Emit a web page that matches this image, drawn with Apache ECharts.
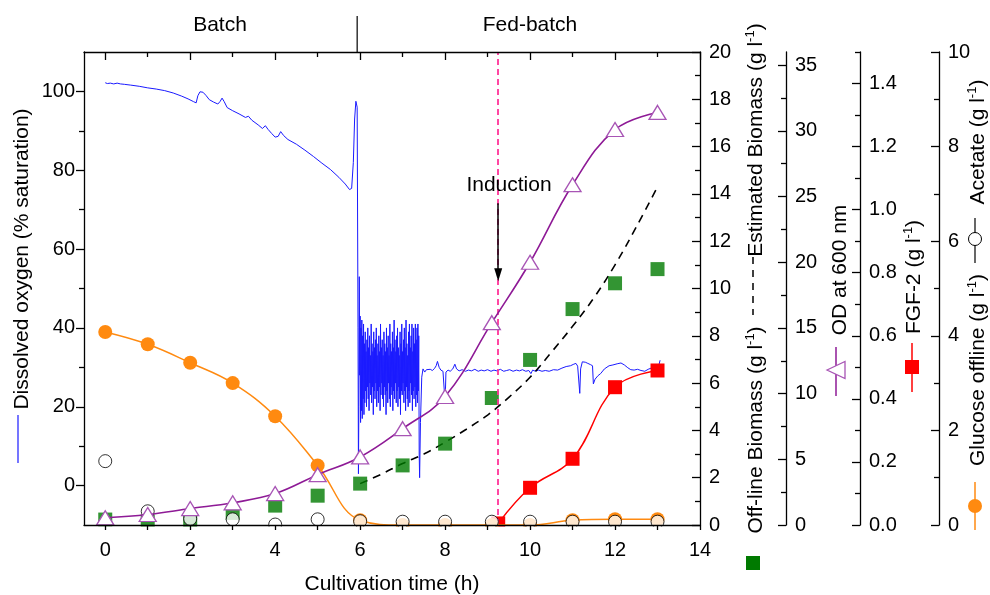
<!DOCTYPE html>
<html><head><meta charset="utf-8">
<script src="https://cdn.jsdelivr.net/npm/echarts@6/dist/echarts.min.js"></script>
<style>html,body{margin:0;padding:0;background:#fff}#c{width:990px;height:595px}</style>
</head><body><div id="c"></div>
<script>
const FONT = 'Arial, "Liberation Sans", Helvetica, sans-serif';

// ---------- data ----------
const sampleTimes    = [0, 1, 2, 3, 4, 5, 6, 7, 8, 9.1, 10, 11, 12, 13];
const glucoseOffline = [4.08, 3.82, 3.43, 3.0, 2.30, 1.26, 0.10, 0, 0, 0, 0, 0.10, 0.12, 0.12];
const acetate        = [1.35, 0.29, 0.13, 0.12, 0.01, 0.12, 0.08, 0.07, 0.07, 0.07, 0.07, 0.07, 0.07, 0.07];
const od600          = [0.55, 0.8, 1.25, 1.69, 2.39, 3.83, 5.18, 7.33, 9.78, 15.4, 20.0, 25.9, 30.1, 31.4];
const offlineBiomass = [0.23, 0.15, 0.18, 0.51, 0.82, 1.24, 1.75, 2.52, 3.44, 5.37, 6.98, 9.13, 10.22, 10.82];
const fgfTimes = [9.25, 10, 11, 12, 13];
const fgf2     = [0.005, 0.118, 0.21, 0.437, 0.49];
const estTimes   = [6, 6.5, 7, 7.5, 8, 8.5, 9, 9.5, 10, 10.5, 11, 11.5, 12, 12.5, 13];
const estBiomass = [1.75, 2.15, 2.6, 3.0, 3.5, 4.05, 4.65, 5.4, 6.25, 7.3, 8.4, 9.6, 11.0, 12.6, 14.3];
const inductionTime = 9.25;
const phaseChange = 5.93;

// dissolved oxygen, batch phase
const doTimeBatch = [
 0.00,0.05,0.12,0.20,0.28,0.36,0.45,0.60,0.80,1.00,1.20,1.40,1.60,1.80,1.95,2.08,2.14,2.18,2.23,2.30,
 2.37,2.45,2.55,2.65,2.70,2.75,2.80,2.87,3.00,3.15,3.30,3.37,3.45,3.60,3.70,3.77,3.83,3.92,4.00,4.07,
 4.13,4.20,4.30,4.50,4.70,4.90,5.10,5.30,5.50,5.65,5.75,5.80,5.84,5.87,5.90,5.93,5.95,5.96,5.97,5.98,5.99
];
const doValueBatch = [
 102.2,102.0,102.1,101.9,102.1,101.9,101.8,101.6,101.3,100.9,100.6,100.2,99.6,98.8,98.1,97.4,97.1,98.9,99.9,99.8,
 99.0,97.9,97.3,96.8,97.4,98.3,97.4,95.9,95.1,94.3,93.4,93.7,92.7,91.5,90.6,91.3,90.4,89.3,88.4,88.6,
 89.8,88.8,87.8,86.6,85.1,83.5,81.8,80.2,78.2,76.5,75.1,75.4,82.0,93.0,97.5,96.0,40.0,3.0,20.0,53.0,28.0
];
// dissolved oxygen, oscillating start of fed-batch
const doTimeOsc = [
 6.00,6.01,6.02,6.03,6.04,6.05,6.06,6.07,6.08,6.09,6.10,6.11,6.12,6.13,6.14,6.15,6.16,6.17,6.18,6.19,
 6.20,6.21,6.22,6.23,6.24,6.25,6.26,6.27,6.28,6.29,6.30,6.31,6.32,6.33,6.34,6.35,6.36,6.37,6.38,6.39,
 6.40,6.41,6.42,6.43,6.44,6.45,6.46,6.47,6.48,6.49,6.50,6.51,6.52,6.53,6.54,6.55,6.56,6.57,6.58,6.59,
 6.60,6.61,6.62,6.63,6.64,6.65,6.66,6.67,6.68,6.69,6.70,6.71,6.72,6.73,6.74,6.75,6.76,6.77,6.78,6.79,
 6.80,6.81,6.82,6.83,6.84,6.85,6.86,6.87,6.88,6.89,6.90,6.91,6.92,6.93,6.94,6.95,6.96,6.97,6.98,6.99,
 7.00,7.01,7.02,7.03,7.04,7.05,7.06,7.07,7.08,7.09,7.10,7.11,7.12,7.13,7.14,7.15,7.16,7.17,7.18,7.19,
 7.20,7.21,7.22,7.23,7.24,7.25,7.26,7.27,7.28,7.29,7.30,7.31,7.32,7.33,7.34,7.35,7.36,7.37,7.38
];
const doValueOsc = [
 43,16,40,19,42,17,38,22,41,18,36,21,39,24,34,20,37,25,40,22,
 35,19,38,26,33,23,41,21,36,25,34,18,39,24,35,22,37,26,40,20,
 33,24,36,21,38,25,34,19,41,23,35,26,37,22,33,20,39,25,36,23,
 34,18,40,24,35,21,38,26,33,22,41,20,36,25,34,23,39,19,35,24,
 42,22,37,26,34,21,38,24,40,20,35,25,33,22,39,18,36,24,41,23,
 34,26,37,21,40,24,35,19,42,25,36,22,33,20,39,24,41,21,35,26,
 38,23,41,19,34,24,40,22,36,25,41,20,37,23,40,21,41,24,38
];
// dissolved oxygen, controlled fed-batch
const doTimeFed = [
 7.39,7.40,7.42,7.45,7.48,7.52,7.56,7.60,7.65,7.70,7.75,7.79,7.82,7.86,7.90,7.95,7.98,8.00,8.02,8.07,
 8.12,8.18,8.23,8.27,8.33,8.40,8.48,8.55,8.62,8.70,8.78,8.85,8.92,9.00,9.08,9.15,9.22,9.30,9.38,9.45,
 9.52,9.60,9.68,9.75,9.82,9.90,9.97,10.02,10.06,10.13,10.20,10.28,10.36,10.45,10.55,10.65,10.75,10.85,10.95,11.03,
 11.08,11.12,11.15,11.17,11.19,11.23,11.26,11.30,11.36,11.42,11.47,11.49,11.53,11.60,11.66,11.75,11.86,11.95,12.05,12.14,
 12.22,12.30,12.37,12.45,12.53,12.61,12.70,12.78,12.85,12.92,12.98,13.03,13.06
];
const doValueFed = [
 8.0,2.0,16.0,27.5,29.6,28.8,29.4,29.0,29.5,29.2,29.7,30.4,31.5,30.0,29.3,29.0,28.6,21.0,28.8,29.3,
 29.0,29.6,30.8,29.6,29.1,29.4,29.0,29.3,29.1,29.5,29.0,29.3,29.1,29.4,29.0,29.3,29.1,29.5,29.0,29.2,
 29.4,29.0,29.3,29.1,29.4,29.0,29.2,28.4,29.3,29.0,29.3,29.0,29.2,29.0,29.4,29.3,29.8,30.2,30.4,30.8,
 31.0,30.3,29.8,23.4,29.6,31.4,31.8,31.3,31.0,30.7,30.4,25.8,27.0,27.9,28.4,29.6,30.4,30.6,30.9,31.1,
 30.6,29.9,29.4,29.3,29.5,29.2,29.0,29.5,29.8,29.4,29.6,30.4,31.8
];

// tick labels
const xLabels   = [0, 2, 4, 6, 8, 10, 12, 14];
const xTicks    = [0, 1, 2, 3, 4, 5, 6, 7, 8, 9, 10, 11, 12, 13, 14];
const xTopMinor = [1, 3, 5, 7, 9, 11, 13];
const doLabels  = [0, 20, 40, 60, 80, 100];
const doMinor   = [10, 30, 50, 70, 90];
const bmLabels  = [0, 2, 4, 6, 8, 10, 12, 14, 16, 18, 20];
const bmMinor   = [1, 3, 5, 7, 9, 11, 13, 15, 17, 19];
const odLabels  = [0, 5, 10, 15, 20, 25, 30, 35];
const odMinor   = [2.5, 7.5, 12.5, 17.5, 22.5, 27.5, 32.5];
const fgfLabels = [0, 0.2, 0.4, 0.6, 0.8, 1.0, 1.2, 1.4];
const fgfMinor  = [0.1, 0.3, 0.5, 0.7, 0.9, 1.1, 1.3, 1.5];
const glLabels  = [0, 2, 4, 6, 8, 10];
const glMinor   = [1, 3, 5, 7, 9];

// ---------- helpers ----------
const zip = (a, b) => a.map((v, i) => [v, b[i]]);
const AX = { color: '#000', width: 1.3 };
const AXZ = 60;
const doData = zip(doTimeBatch, doValueBatch).concat(zip(doTimeOsc, doValueOsc), zip(doTimeFed, doValueFed));

function yPair(pos, offset, min, max, labels, minor, outward, fmt) {
  const major = {
    type: 'value', position: pos, offset: offset, min: min, max: max, z: AXZ,
    axisLine: { show: true, onZero: false, lineStyle: AX },
    axisTick: { show: true, inside: !outward, length: 8, lineStyle: AX, customValues: labels },
    axisLabel: { show: true, customValues: labels, color: '#000', fontSize: 20, fontFamily: FONT, margin: 9,
                 formatter: fmt || (v => String(v)) },
    splitLine: { show: false }
  };
  const mn = {
    type: 'value', position: pos, offset: offset, min: min, max: max, z: AXZ,
    axisLine: { show: false, onZero: false },
    axisTick: { show: true, inside: !outward, length: 5, lineStyle: AX, customValues: minor },
    axisLabel: { show: false },
    splitLine: { show: false }
  };
  return [major, mn];
}

const yAxes = [].concat(
  yPair('left', 0, -10, 110, doLabels, doMinor, true),
  yPair('right', 0, 0, 20, bmLabels, bmMinor, false),
  yPair('right', 86, 0, 36, odLabels, odMinor, false),
  yPair('right', 160, 0, 1.5, fgfLabels, fgfMinor, false, v => v.toFixed(1)),
  yPair('right', 239, 0, 10, glLabels, glMinor, false)
);

const xAxes = [
  { type: 'value', position: 'bottom', min: -0.5, max: 14, z: AXZ,
    axisLine: { onZero: false, lineStyle: AX },
    axisTick: { inside: false, length: 5, lineStyle: AX, customValues: xTicks },
    axisLabel: { customValues: xLabels, color: '#000', fontSize: 20, fontFamily: FONT, margin: 15 },
    splitLine: { show: false } },
  { type: 'value', position: 'top', min: -0.5, max: 14, z: AXZ,
    axisLine: { onZero: false, lineStyle: AX },
    axisTick: { inside: true, length: 8, lineStyle: AX, customValues: xLabels },
    axisLabel: { show: false }, splitLine: { show: false } },
  { type: 'value', position: 'top', min: -0.5, max: 14, z: AXZ,
    axisLine: { show: false, onZero: false },
    axisTick: { inside: true, length: 5, lineStyle: AX, customValues: xTopMinor },
    axisLabel: { show: false }, splitLine: { show: false } }
];

const PURPLE = '#8e1a96', PURPLE_L = '#a855b5', ORANGE = '#ff8a10', GREEN = '#007a00',
      RED = '#ff0000', BLUE = '#1a1aff', PINK = '#ff3399';

const series = [
  { name: 'DO', type: 'line', xAxisIndex: 0, yAxisIndex: 0, data: doData,
    showSymbol: false, lineStyle: { color: BLUE, width: 1 }, z: 1, animation: false,
    markLine: { silent: true, symbol: 'none', animation: false, label: { show: false },
      data: [
        { xAxis: inductionTime, lineStyle: { color: PINK, width: 1.8, type: [6, 4] } },
        [ { coord: [inductionTime, 71.6], symbol: 'none', lineStyle: { color: '#000', width: 1.5, type: 'solid' } },
          { coord: [inductionTime, 53.5], symbol: 'triangle', symbolSize: [8, 13], symbolRotate: 180 } ]
      ] } },
  { name: 'Estimated', type: 'line', xAxisIndex: 0, yAxisIndex: 2, data: zip(estTimes, estBiomass),
    showSymbol: false, smooth: 0.4, lineStyle: { color: '#000', width: 1.6, type: [8, 6] }, z: 2 },
  { name: 'Offline', type: 'scatter', xAxisIndex: 0, yAxisIndex: 2, data: zip(sampleTimes, offlineBiomass),
    symbol: 'rect', symbolSize: 14, itemStyle: { color: GREEN }, z: 3 },
  { name: 'FGF', type: 'line', xAxisIndex: 0, yAxisIndex: 6, data: zip(fgfTimes, fgf2), smooth: 0.4,
    symbol: 'rect', symbolSize: 14, showAllSymbol: true, lineStyle: { color: RED, width: 1.5 },
    itemStyle: { color: RED }, z: 4 },
  { name: 'Glucose', type: 'line', xAxisIndex: 0, yAxisIndex: 8, data: zip(sampleTimes, glucoseOffline), smooth: 0.4,
    symbol: 'circle', symbolSize: 14, showAllSymbol: true, lineStyle: { color: ORANGE, width: 1.5 },
    itemStyle: { color: ORANGE }, z: 5 },
  { name: 'Acetate', type: 'scatter', xAxisIndex: 0, yAxisIndex: 8, data: zip(sampleTimes, acetate),
    symbol: 'circle', symbolSize: 13, itemStyle: { color: '#fff', borderColor: '#000', borderWidth: 1 }, z: 6 },
  { name: 'OD', type: 'line', xAxisIndex: 0, yAxisIndex: 4, data: zip(sampleTimes, od600), smooth: 0.4,
    symbol: 'triangle', symbolSize: [17, 14], showAllSymbol: true, lineStyle: { color: PURPLE, width: 1.6 },
    itemStyle: { color: '#fff', borderColor: PURPLE_L, borderWidth: 1.3 }, z: 7 }
];

// ---------- titles (text) ----------
const SUP = { s: { fontSize: 13, fontFamily: FONT, fill: '#000', verticalAlign: 'top', lineHeight: 24 } };
function vText(txt, cx, cy) {
  return { type: 'text', x: cx, y: cy, rotation: Math.PI / 2, z: 100,
    style: { text: txt, fontSize: 21, fontFamily: FONT, fill: '#000', align: 'center', verticalAlign: 'middle',
             lineHeight: 24, rich: SUP } };
}
function hText(txt, cx, cy) {
  return { type: 'text', x: cx, y: cy, z: 100,
    style: { text: txt, fontSize: 21, fontFamily: FONT, fill: '#000', align: 'center', verticalAlign: 'middle' } };
}
function vLine(x, y1, y2, color, w, dash) {
  return { type: 'line', z: 100, shape: { x1: x, y1: y1, x2: x, y2: y2 },
    style: { stroke: color, lineWidth: w || 1.5, lineDash: dash || null } };
}

const graphics = [
  // white band below the frame so markers sitting on the axis are cut like in the original
  { type: 'rect', z: 50, shape: { x: 80, y: 526.5, width: 625, height: 11 }, style: { fill: '#fff' } },
  hText('Batch', 220, 25),
  hText('Fed-batch', 530, 25),
  hText('Cultivation time (h)', 392, 584),
  hText('Induction', 509, 185),
  vText('Dissolved oxygen (% saturation)', 22, 259),
  vLine(18, 415, 463, BLUE, 1.2),
  vText('Off-line Biomass (g l{s|-1})', 756, 430),
  vLine(753, 257, 315, '#000', 1.5, [7, 6]),
  vText('Estimated Biomass (g l{s|-1})', 756, 140),
  { type: 'rect', z: 100, shape: { x: 746, y: 556, width: 14, height: 14 }, style: { fill: GREEN } },
  vText('OD at 600 nm', 840, 270),
  vLine(836, 347, 396, PURPLE, 1.5),
  { type: 'polygon', z: 101, shape: { points: [[827, 370], [845, 361.5], [845, 378.5]] },
    style: { fill: '#fff', stroke: PURPLE_L, lineWidth: 1.3 } },
  vText('FGF-2 (g l{s|-1})', 914, 277),
  vLine(912, 343, 392, RED, 1.5),
  { type: 'rect', z: 101, shape: { x: 905, y: 360, width: 14, height: 14 }, style: { fill: RED } },
  vText('Glucose offline (g l{s|-1})', 978, 370),
  vLine(975, 482, 530, ORANGE, 1.5),
  { type: 'circle', z: 101, shape: { cx: 975, cy: 506, r: 7 }, style: { fill: ORANGE } },
  vLine(975, 218, 263, '#000', 1.2),
  { type: 'circle', z: 101, shape: { cx: 975, cy: 239, r: 6.5 }, style: { fill: '#fff', stroke: '#000', lineWidth: 1 } },
  vText('Acetate (g l{s|-1})', 978, 142)
];

const chart = echarts.init(document.getElementById('c'), null, { renderer: 'canvas' });
chart.setOption({
  animation: false,
  backgroundColor: '#fff',
  textStyle: { fontFamily: FONT },
  grid: { left: 84, top: 52, width: 616, height: 473, containLabel: false, outerBoundsMode: 'none' },
  xAxis: xAxes,
  yAxis: yAxes,
  series: series,
  graphic: graphics
});
// phase separator above the frame, placed from the time axis
const sepX = chart.convertToPixel({ xAxisIndex: 0 }, phaseChange);
chart.setOption({ graphic: graphics.concat([vLine(sepX, 16, 52, '#000', 1.2)]) });
</script></body></html>
